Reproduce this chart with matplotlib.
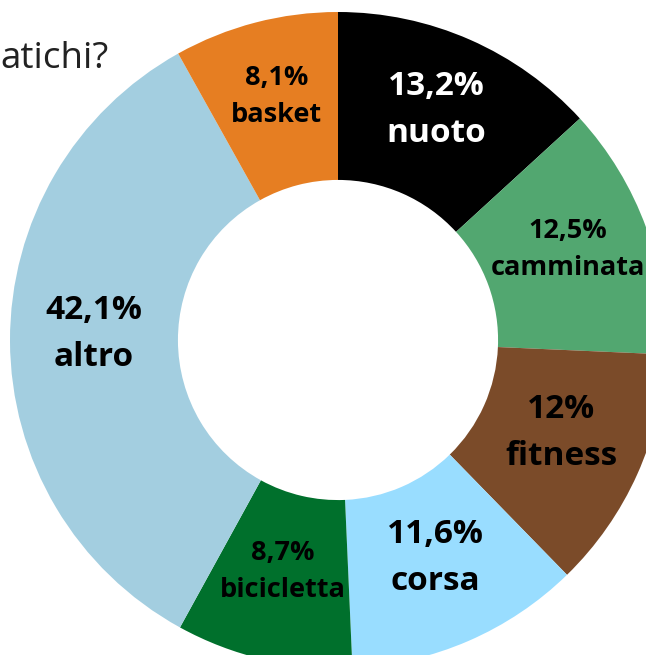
import numpy as np
import matplotlib
matplotlib.use("Agg")
import matplotlib.pyplot as plt

# dati
sport = ["nuoto", "camminata", "fitness", "corsa", "bicicletta", "altro", "basket"]
quote = ["13,2%", "12,5%", "12%", "11,6%", "8,7%", "42,1%", "8,1%"]
# ampiezza degli spicchi come disegnata (altro occupa solo il resto del cerchio)
spicchi = [13.2, 12.5, 12.0, 11.6, 8.7, 33.9, 8.1]
colori = ["#000000", "#52A770", "#7B4B29", "#99DDFF", "#00702C", "#A3CEE0", "#E67E22"]
testo_col = ["white", "black", "black", "black", "black", "black", "black"]
piccoli = ["camminata", "bicicletta", "basket"]

plt.rcParams["font.family"] = ["Open Sans", "DejaVu Sans"]

W, H = 646, 655
fig = plt.figure(figsize=(W / 100, H / 100), dpi=100)
cx, cy, R = 338, 340, 328
ax = fig.add_axes([(cx - R) / W, (H - cy - R) / H, 2 * R / W, 2 * R / H])

wedges, _ = ax.pie(spicchi, colors=colori, startangle=90, counterclock=False,
                   radius=1, wedgeprops=dict(width=0.512, linewidth=0))
ax.set_xlim(-1, 1)
ax.set_ylim(-1, 1)
ax.set_aspect("auto")
ax.axis("off")

r_lab = 0.745
for w, s, q, c in zip(wedges, sport, quote, testo_col):
    ang = np.deg2rad((w.theta1 + w.theta2) / 2)
    fs = 19.5 if s in piccoli else 24
    ax.text(r_lab * np.cos(ang), r_lab * np.sin(ang) + 0.02, q + "\n" + s,
            ha="center", va="center", fontsize=fs, fontweight="bold",
            color=c, linespacing=1.55, multialignment="center")

fig.text(109 / W, 1 - 59 / H, "atichi?", fontsize=26.5, ha="right", va="center",
         color="#222222")

fig.savefig("out.png", dpi=100)
